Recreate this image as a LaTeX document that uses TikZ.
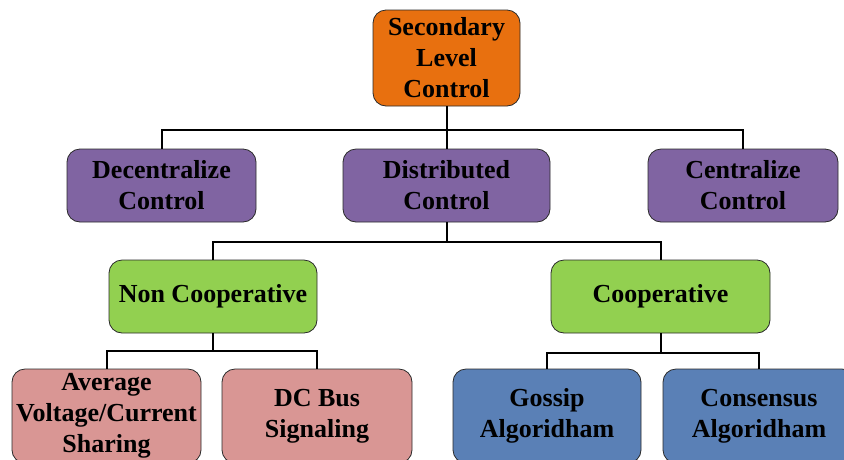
\documentclass[tikz,border=0pt]{standalone}
\usepackage{fontspec}
\setmainfont{Liberation Serif}
\definecolor{cOrange}{HTML}{E8700F}
\definecolor{cPurple}{HTML}{8064A2}
\definecolor{cGreen}{HTML}{92D050}
\definecolor{cPink}{HTML}{D99694}
\definecolor{cBlue}{HTML}{5A80B6}
\definecolor{cBorder}{HTML}{2A2A2A}
\begin{document}
\begin{tikzpicture}[x=1pt,y=-1pt,
  box/.style={draw=cBorder, line width=0.8pt, rounded corners=13pt, align=center,
    font=\fontsize{26}{31}\selectfont\bfseries, inner sep=0pt, text=black},
  conn/.style={line width=2pt, black}]
\useasboundingbox (0,0) rectangle (844,459);
\clip (0,0) rectangle (844,459);
\node[box, fill=cOrange, minimum width=147pt, minimum height=96pt] (root) at (446.5,58) {Secondary\\Level\\Control};
\node[box, fill=cPurple, minimum width=189pt, minimum height=73pt] (dec) at (161.5,185.5) {Decentralize\\Control};
\node[box, fill=cPurple, minimum width=207pt, minimum height=73pt] (dist) at (446.5,185.5) {Distributed\\Control};
\node[box, fill=cPurple, minimum width=190pt, minimum height=73pt] (cen) at (743,185.5) {Centralize\\Control};
\node[box, fill=cGreen, minimum width=208pt, minimum height=73pt] (ncoop) at (213,296.5) {Non Cooperative};
\node[box, fill=cGreen, minimum width=219pt, minimum height=73pt] (coop) at (660.5,296.5) {Cooperative};
\node[box, fill=cPink, minimum width=189pt, minimum height=94pt] (avg) at (106.5,416) {Average\\Voltage/Current\\Sharing};
\node[box, fill=cPink, minimum width=190pt, minimum height=94pt] (dcbus) at (317,416) {DC Bus\\Signaling};
\node[box, fill=cBlue, minimum width=188pt, minimum height=94pt] (gossip) at (547,416) {Gossip\\Algoridham};
\node[box, fill=cBlue, minimum width=192pt, minimum height=94pt] (cons) at (759,416) {Consensus\\Algoridham};
\coordinate (h1) at (0,130);
\coordinate (h2) at (0,242);
\coordinate (h3) at (0,351);
\coordinate (h4) at (0,353);
\draw[conn] (root.south) -- (root.south |- h1);
\draw[conn] (dec.north) -- (dec.north |- h1) -- (cen.north |- h1) -- (cen.north);
\draw[conn] (dist.north) -- (dist.north |- h1);
\draw[conn] (dist.south) -- (dist.south |- h2);
\draw[conn] (ncoop.north) -- (ncoop.north |- h2) -- (coop.north |- h2) -- (coop.north);
\draw[conn] (ncoop.south) -- (ncoop.south |- h3);
\draw[conn] (avg.north) -- (avg.north |- h3) -- (dcbus.north |- h3) -- (dcbus.north);
\draw[conn] (coop.south) -- (coop.south |- h4);
\draw[conn] (gossip.north) -- (gossip.north |- h4) -- (cons.north |- h4) -- (cons.north);
\end{tikzpicture}
\end{document}
